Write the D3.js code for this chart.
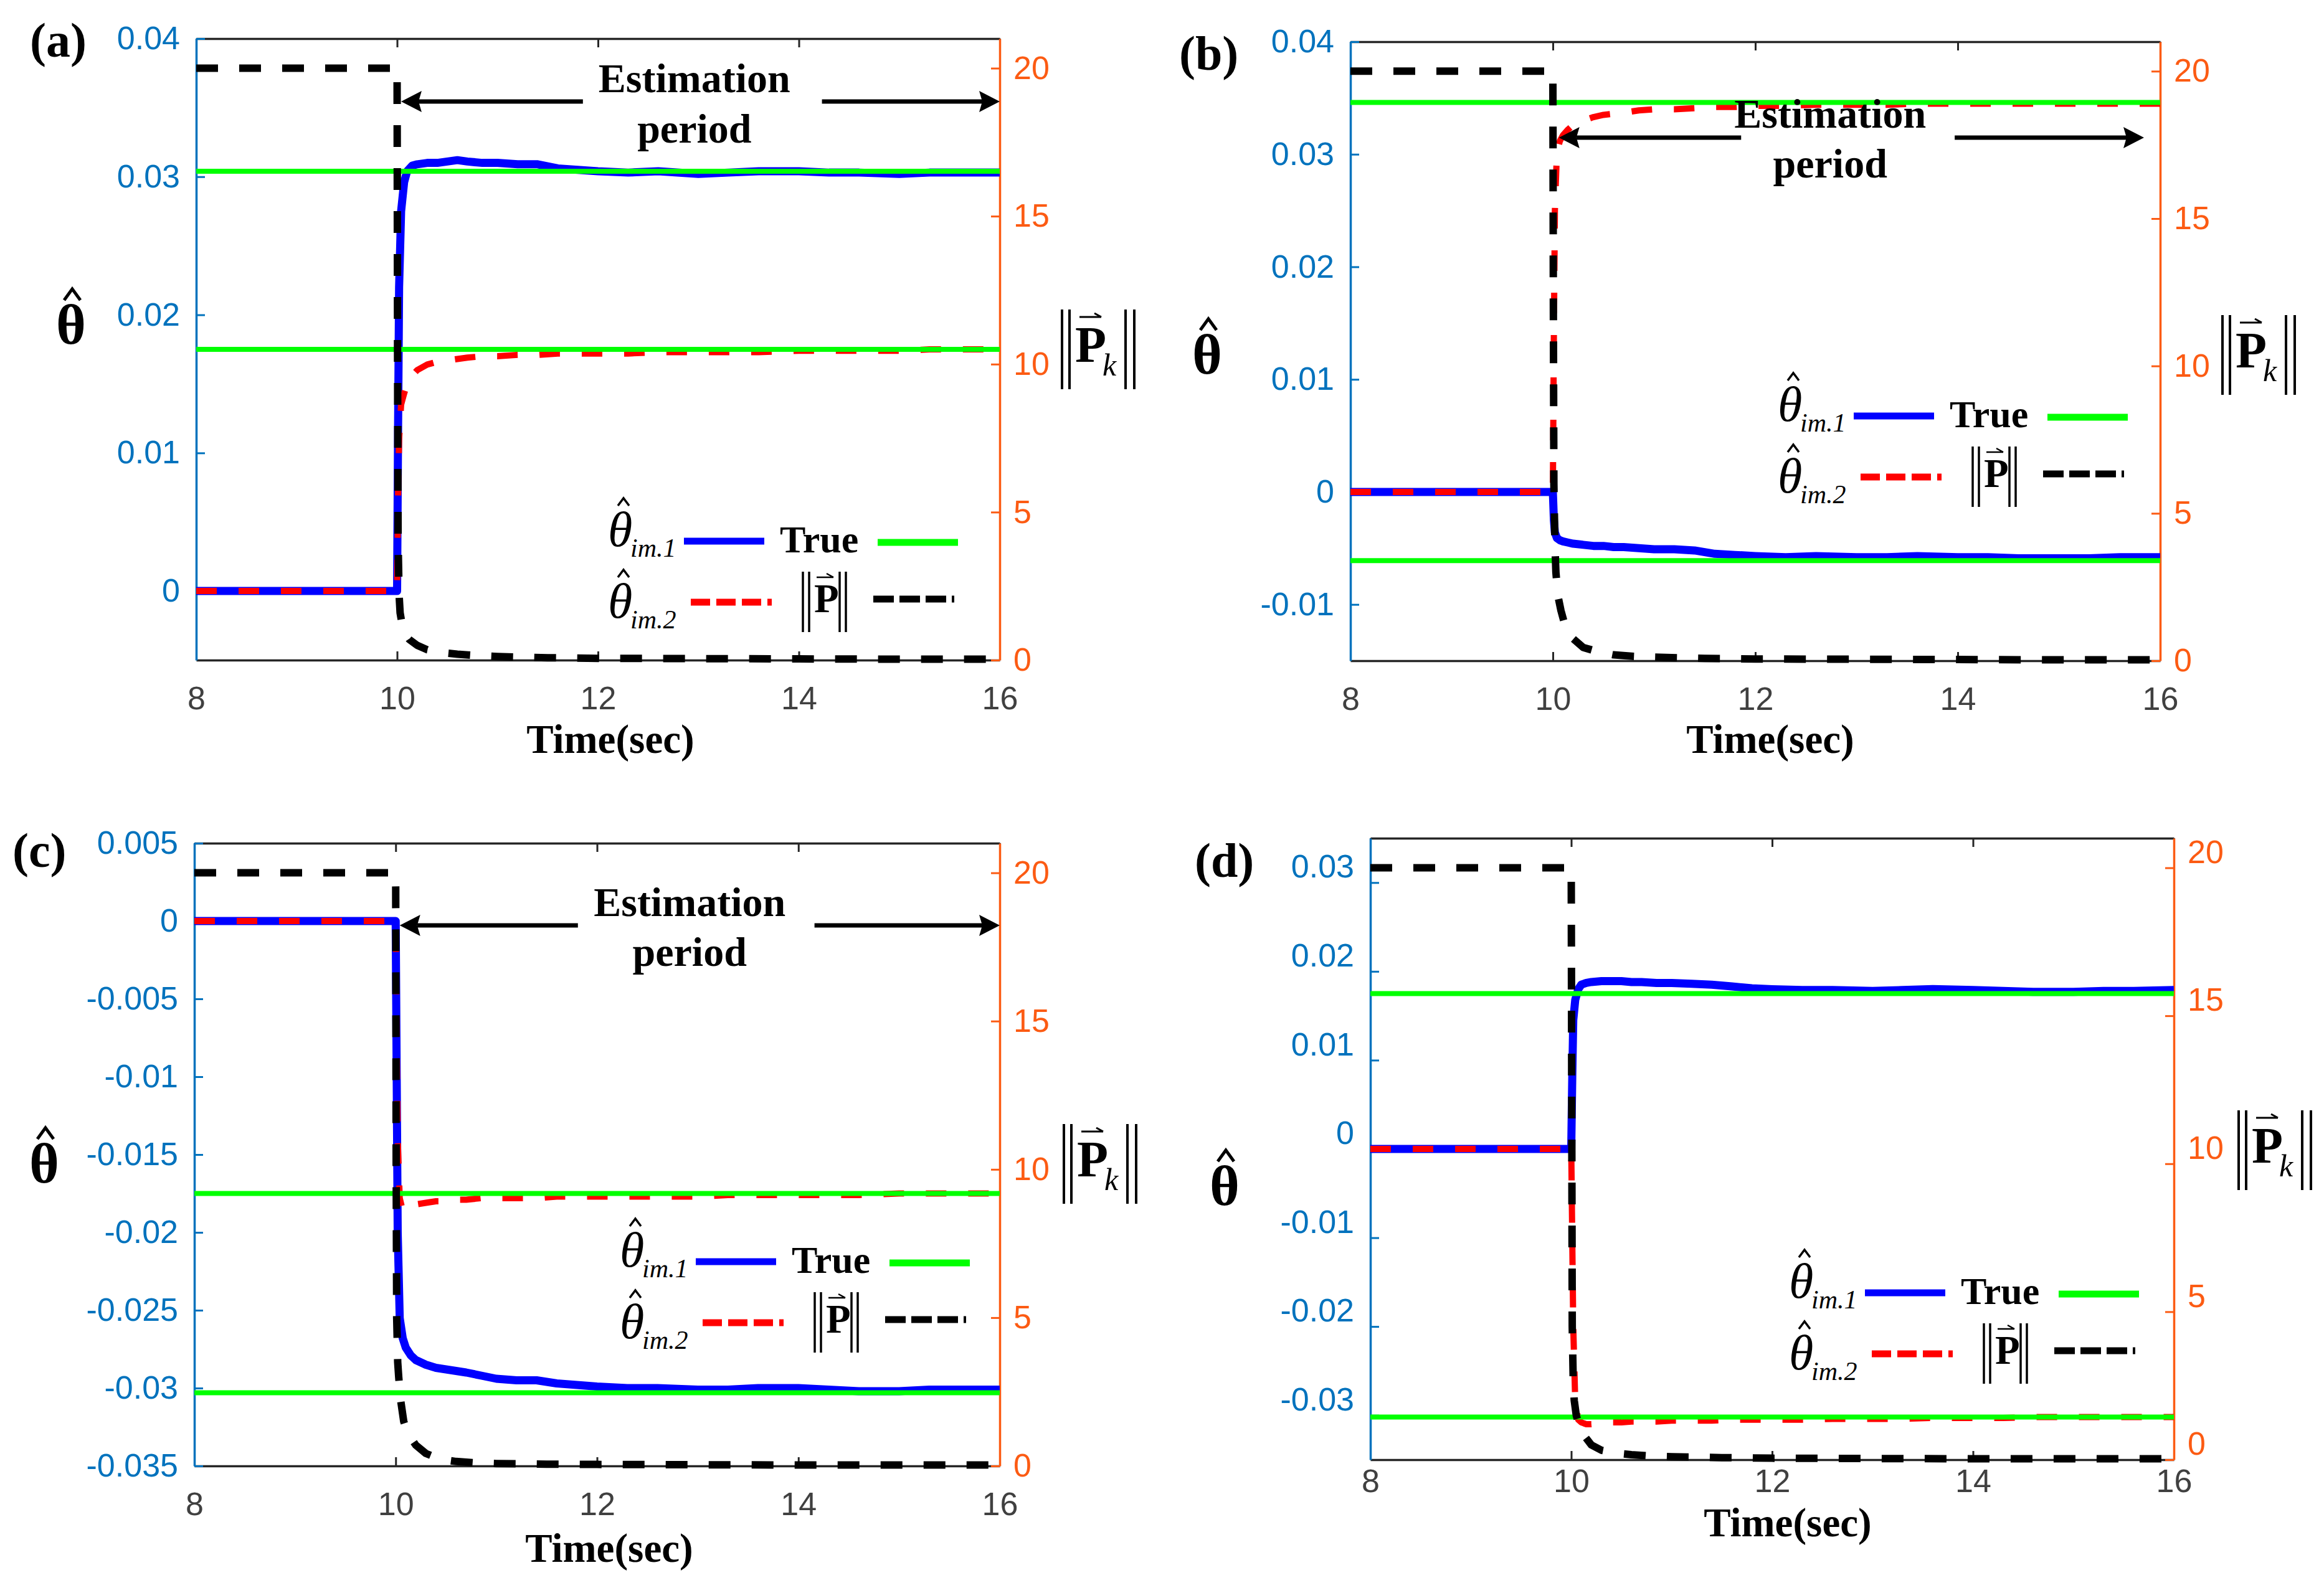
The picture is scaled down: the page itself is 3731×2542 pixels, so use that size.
<!DOCTYPE html>
<html>
<head>
<meta charset="utf-8">
<script src="https://cdn.jsdelivr.net/npm/d3@7"></script>
<style>
  html, body { margin: 0; padding: 0; background: #fff; }
  svg { display: block; }
</style>
</head>
<body>
<div id="chart"></div>
<script>
// ---- values ----
var timeEst = [8, 10, 10.01, 10.02, 10.04, 10.07, 10.1, 10.15, 10.2, 10.3, 10.4, 10.5, 10.6, 10.7, 10.85, 11,
  11.2, 11.4, 11.6, 11.8, 12, 12.3, 12.6, 13, 13.3, 13.6, 14, 14.3, 14.6, 15, 15.3, 15.6, 16];
var timeP = [8, 10, 10.005, 10.01, 10.02, 10.03, 10.05, 10.08, 10.12, 10.2, 10.3, 10.45, 10.6, 10.8, 11,
  11.5, 12, 13, 14, 15, 16];

var xTicks = [8, 10, 12, 14, 16];
var pTicks = [0, 5, 10, 15, 20];

// panel (a)
var thetaTicksA = [0, 0.01, 0.02, 0.03, 0.04];
var thetaLabelsA = ["0", "0.01", "0.02", "0.03", "0.04"];
var trueA = [0.0304, 0.0175];
var blueA = [0, 0, 0.012, 0.022, 0.0275, 0.0296, 0.0304, 0.0308, 0.0309, 0.031, 0.031, 0.0311, 0.0312, 0.0311,
  0.031, 0.031, 0.0309, 0.0309, 0.0306, 0.0305, 0.0304, 0.0303, 0.0304, 0.0302, 0.0303, 0.0304, 0.0304, 0.0303,
  0.0303, 0.0302, 0.0303, 0.0303, 0.0303];
var redA = [0, 0, 0.007, 0.011, 0.0135, 0.0143, 0.015, 0.0156, 0.016, 0.0164, 0.0166, 0.0167, 0.0168, 0.0169,
  0.017, 0.017, 0.0171, 0.0171, 0.0172, 0.0172, 0.0172, 0.0172, 0.0173, 0.0173, 0.0173, 0.0173, 0.0174, 0.0174,
  0.0174, 0.0174, 0.0175, 0.0175, 0.0175];
var normPA = [20, 20, 10, 4, 2.2, 1.6, 1.2, 0.9, 0.7, 0.5, 0.35, 0.25, 0.2, 0.15, 0.12, 0.08, 0.06, 0.05, 0.04, 0.03, 0.03];

// panel (b)
var thetaTicksB = [-0.01, 0, 0.01, 0.02, 0.03, 0.04];
var thetaLabelsB = ["-0.01", "0", "0.01", "0.02", "0.03", "0.04"];
var trueB = [0.0346, -0.0061];
var blueB = [0, 0, -0.0025, -0.0036, -0.0041, -0.0043, -0.0044, -0.0045, -0.0046, -0.0047, -0.0048, -0.0048,
  -0.0049, -0.0049, -0.005, -0.0051, -0.0051, -0.0052, -0.0055, -0.0056, -0.0057, -0.0058, -0.0057, -0.0058,
  -0.0058, -0.0057, -0.0058, -0.0058, -0.0059, -0.0059, -0.0059, -0.0058, -0.0058];
var redB = [0, 0, 0.014, 0.025, 0.0302, 0.0312, 0.0317, 0.0322, 0.0326, 0.033, 0.0333, 0.0335, 0.0336, 0.0337,
  0.0339, 0.034, 0.034, 0.0341, 0.0342, 0.0342, 0.0343, 0.0343, 0.0344, 0.0344, 0.0344, 0.0345, 0.0345, 0.0345,
  0.0345, 0.0345, 0.0345, 0.0345, 0.0345];
var normPB = [20, 20, 12, 6, 4, 3, 2.2, 1.7, 1.2, 0.75, 0.45, 0.3, 0.2, 0.15, 0.12, 0.08, 0.06, 0.05, 0.04, 0.03, 0.03];

// panel (c)
var thetaTicksC = [-0.035, -0.03, -0.025, -0.02, -0.015, -0.01, -0.005, 0, 0.005];
var thetaLabelsC = ["-0.035", "-0.03", "-0.025", "-0.02", "-0.015", "-0.01", "-0.005", "0", "0.005"];
var trueC = [-0.0175, -0.0303];
var blueC = [0, 0, -0.01, -0.02, -0.0255, -0.0268, -0.0274, -0.0279, -0.0282, -0.0285, -0.0287, -0.0288,
  -0.0289, -0.029, -0.0292, -0.0294, -0.0295, -0.0295, -0.0297, -0.0298, -0.0299, -0.03, -0.03, -0.0301,
  -0.0301, -0.03, -0.03, -0.0301, -0.0302, -0.0302, -0.0301, -0.0301, -0.0301];
var redC = [0, 0, -0.008, -0.014, -0.0178, -0.0186, -0.0185, -0.0183, -0.0182, -0.0181, -0.018, -0.018,
  -0.0179, -0.0179, -0.0178, -0.0178, -0.0178, -0.0178, -0.0177, -0.0177, -0.0177, -0.0177, -0.0177, -0.0177,
  -0.0176, -0.0176, -0.0176, -0.0176, -0.0176, -0.0175, -0.0175, -0.0175, -0.0175];
var normPC = [20, 20, 10, 5, 3.5, 3, 2.2, 1.5, 1.1, 0.7, 0.42, 0.22, 0.15, 0.1, 0.08, 0.06, 0.05, 0.04, 0.03, 0.03, 0.03];

// panel (d)
var thetaTicksD = [-0.03, -0.02, -0.01, 0, 0.01, 0.02, 0.03];
var thetaLabelsD = ["-0.03", "-0.02", "-0.01", "0", "0.01", "0.02", "0.03"];
var trueD = [0.0175, -0.0302];
var blueD = [0, 0, 0.008, 0.0145, 0.0168, 0.018, 0.0185, 0.0187, 0.0188, 0.0189, 0.0189, 0.0189, 0.0188,
  0.0188, 0.0187, 0.0187, 0.0186, 0.0185, 0.0183, 0.0181, 0.018, 0.0179, 0.0179, 0.0178, 0.0179, 0.018,
  0.0179, 0.0178, 0.0177, 0.0177, 0.0178, 0.0178, 0.0179];
var redD = [0, 0, -0.01, -0.02, -0.0285, -0.0305, -0.0308, -0.031, -0.031, -0.0309, -0.0308, -0.0308,
  -0.0307, -0.0307, -0.0307, -0.0306, -0.0306, -0.0306, -0.0305, -0.0305, -0.0305, -0.0305, -0.0304, -0.0304,
  -0.0304, -0.0303, -0.0303, -0.0303, -0.0302, -0.0302, -0.0302, -0.0302, -0.0302];
var normPD = [20, 20, 12, 4.5, 2.6, 2.0, 1.5, 1.15, 0.85, 0.5, 0.32, 0.22, 0.17, 0.12, 0.1, 0.07, 0.05, 0.04, 0.03, 0.03, 0.03];

// ---- layout / styles ----
var W = 3731, H = 2542;
var blueAxis = "#0072BD", orangeAxis = "#FC5B13", darkAxis = "#262626", xTickColor = "#404040";
var serif = "'Liberation Serif', 'Times New Roman', serif";
var sans = "'Liberation Sans', Arial, sans-serif";

var panels = [
  { id: "a", box: { l: 315, r: 1605, t: 62, b: 1060 }, thetaDomain: [-0.005, 0.04],
    thetaTicks: thetaTicksA, thetaLabels: thetaLabelsA, truth: trueA, blue: blueA, red: redA, normP: normPA,
    xPad: 42, labelShift: 0, tag: { x: 48, y: 91 }, thetaLab: { cx: 114, base: 552 },
    normLab: { x: 1705, y: 497 }, timeLab: { cx: 980, base: 1209 }, legend: { x: 976, y: 877 },
    note: { tipL: 10.04, tipR: 16, gapL: 11.85, gapR: 14.23, tc: 12.96, dyE: 86, dyA: 101, dyP: 167 } },
  { id: "b", box: { l: 2168, r: 3468, t: 67, b: 1061 }, thetaDomain: [-0.015, 0.04],
    thetaTicks: thetaTicksB, thetaLabels: thetaLabelsB, truth: trueB, blue: blueB, red: redB, normP: normPB,
    xPad: 42, labelShift: 0, tag: { x: 1893, y: 112 }, thetaLab: { cx: 1938, base: 600 },
    normLab: { x: 3568, y: 506 }, timeLab: { cx: 2842, base: 1209 }, legend: { x: 2854, y: 676 },
    note: { tipL: 10.06, tipR: 15.84, gapL: 11.86, gapR: 13.97, tc: 12.74, dyE: 138, dyA: 154, dyP: 218 } },
  { id: "c", box: { l: 312, r: 1605, t: 1354, b: 2354 }, thetaDomain: [-0.035, 0.005],
    thetaTicks: thetaTicksC, thetaLabels: thetaLabelsC, truth: trueC, blue: blueC, red: redC, normP: normPC,
    xPad: 42, labelShift: 0, tag: { x: 20, y: 1392 }, thetaLab: { cx: 71, base: 1899 },
    normLab: { x: 1708, y: 1805 }, timeLab: { cx: 978, base: 2508 }, legend: { x: 995, y: 2034 },
    note: { tipL: 10.04, tipR: 16, gapL: 11.81, gapR: 14.16, tc: 12.92, dyE: 117, dyA: 132, dyP: 197 } },
  { id: "d", box: { l: 2200, r: 3490, t: 1346, b: 2344 }, thetaDomain: [-0.035, 0.035],
    thetaTicks: thetaTicksD, thetaLabels: thetaLabelsD, truth: trueD, blue: blueD, red: redD, normP: normPD,
    xPad: 15, labelShift: -25, tag: { x: 1918, y: 1408 }, thetaLab: { cx: 1966, base: 1935 },
    normLab: { x: 3594, y: 1783 }, timeLab: { cx: 2870, base: 2467 }, legend: { x: 2872, y: 2084 },
    note: null }
];

var svg = d3.select("#chart").append("svg")
  .attr("width", W)
  .attr("height", H);
svg.append("rect").attr("width", W).attr("height", H).attr("fill", "#fff");
var defs = svg.append("defs");

panels.forEach(drawPanel);

function styleAxis(sel, lineColor, textColor, shift) {
  sel.attr("font-size", null).attr("font-family", null);
  sel.select(".domain").attr("stroke", lineColor).attr("stroke-width", 3.5);
  sel.selectAll(".tick line").attr("stroke", lineColor).attr("stroke-width", 3);
  var txt = sel.selectAll(".tick text")
    .attr("fill", textColor)
    .style("font-family", sans)
    .style("font-size", "52px");
  // only the y axes get nudged (panel d has its labels sitting above the ticks)
  if (shift) txt.attr("y", shift);
}

function drawPanel(p) {
  var box = p.box;
  var g = svg.append("g").attr("class", "panel-" + p.id);

  var x = d3.scaleLinear().domain([8, 16]).range([box.l, box.r]);
  var y = d3.scaleLinear().domain(p.thetaDomain).range([box.b, box.t]);
  var y2 = d3.scaleLinear().domain([0, 21]).range([box.b, box.t]);

  // axes (data is drawn over them)
  var bottomAxis = g.append("g")
    .attr("transform", `translate(0,${box.b})`)
    .call(d3.axisBottom(x).tickValues(xTicks).tickSize(-14).tickSizeOuter(0).tickPadding(p.xPad));
  styleAxis(bottomAxis, darkAxis, xTickColor);

  var topAxis = g.append("g")
    .attr("transform", `translate(0,${box.t})`)
    .call(d3.axisTop(x).tickValues(xTicks).tickSize(-14).tickSizeOuter(0).tickFormat(""));
  styleAxis(topAxis, darkAxis, xTickColor);

  var leftAxis = g.append("g")
    .attr("transform", `translate(${box.l},0)`)
    .call(d3.axisLeft(y).tickValues(p.thetaTicks)
      .tickFormat(d => p.thetaLabels[p.thetaTicks.indexOf(d)])
      .tickSize(-14).tickSizeOuter(0).tickPadding(26));
  styleAxis(leftAxis, blueAxis, blueAxis, p.labelShift);

  var rightAxis = g.append("g")
    .attr("transform", `translate(${box.r},0)`)
    .call(d3.axisRight(y2).tickValues(pTicks).tickSize(-14).tickSizeOuter(0).tickPadding(22));
  styleAxis(rightAxis, orangeAxis, orangeAxis, p.labelShift);

  // clip to the plot width, a little slack vertically
  var clipId = "clip-" + p.id;
  defs.append("clipPath").attr("id", clipId)
    .append("rect")
    .attr("x", box.l).attr("y", box.t - 12)
    .attr("width", box.r - box.l).attr("height", box.b - box.t + 24);
  var plot = g.append("g").attr("clip-path", `url(#${clipId})`);

  var thetaLine = d3.line().x(d => x(d.t)).y(d => y(d.v));
  var normLine = d3.line().x(d => x(d.t)).y(d => y2(d.v));

  var blueData = timeEst.map((t, i) => ({ t: t, v: p.blue[i] }));
  var redData = timeEst.map((t, i) => ({ t: t, v: p.red[i] }));
  var normData = timeP.map((t, i) => ({ t: t, v: p.normP[i] }));

  plot.append("path").datum(blueData)
    .attr("d", thetaLine)
    .attr("fill", "none")
    .attr("stroke", "#0000FF")
    .attr("stroke-width", 13)
    .attr("stroke-linejoin", "round");

  plot.append("path").datum(redData)
    .attr("d", thetaLine)
    .attr("fill", "none")
    .attr("stroke", "#FF0000")
    .attr("stroke-width", 10)
    .attr("stroke-dasharray", "33,35")
    .attr("stroke-linejoin", "round");

  p.truth.forEach(function(v) {
    plot.append("path").datum([{ t: 8, v: v }, { t: 16, v: v }])
      .attr("d", thetaLine)
      .attr("fill", "none")
      .attr("stroke", "#00FF00")
      .attr("stroke-width", 8);
  });

  plot.append("path").datum(normData)
    .attr("d", normLine)
    .attr("fill", "none")
    .attr("stroke", "#000")
    .attr("stroke-width", 12)
    .attr("stroke-dasharray", "35,34")
    .attr("stroke-linejoin", "round");

  // estimation period note
  if (p.note) {
    var n = p.note;
    g.append("text")
      .attr("x", x(n.tc)).attr("y", box.t + n.dyE)
      .attr("text-anchor", "middle")
      .style("font-family", serif).style("font-weight", "bold").style("font-size", "66px")
      .text("Estimation");
    g.append("text")
      .attr("x", x(n.tc)).attr("y", box.t + n.dyP)
      .attr("text-anchor", "middle")
      .style("font-family", serif).style("font-weight", "bold").style("font-size", "66px")
      .text("period");
    drawArrow(g, x(n.tipL), x(n.tipR), box.t + n.dyA, x(n.gapL), x(n.gapR));
  }

  // labels
  g.append("text")
    .attr("x", p.tag.x).attr("y", p.tag.y)
    .style("font-family", serif).style("font-weight", "bold").style("font-size", "78px")
    .text("(" + p.id + ")");

  g.append("text")
    .attr("x", p.timeLab.cx).attr("y", p.timeLab.base)
    .attr("text-anchor", "middle")
    .style("font-family", serif).style("font-weight", "bold").style("font-size", "65px")
    .text("Time(sec)");

  drawThetaLabel(g, p.thetaLab.cx, p.thetaLab.base);
  drawNormLabel(g, p.normLab.x, p.normLab.y);
  drawLegend(g, p.legend.x, p.legend.y);
}

function drawArrow(g, x1, x2, yA, gapL, gapR) {
  var len = 33, half = 17, notch = 28;
  g.append("line").attr("x1", x1 + notch).attr("x2", gapL).attr("y1", yA).attr("y2", yA)
    .attr("stroke", "#000").attr("stroke-width", 7);
  g.append("line").attr("x1", gapR).attr("x2", x2 - notch).attr("y1", yA).attr("y2", yA)
    .attr("stroke", "#000").attr("stroke-width", 7);
  g.append("path")
    .attr("d", `M${x1},${yA} L${x1 + len},${yA - half} L${x1 + notch},${yA} L${x1 + len},${yA + half} Z`)
    .attr("fill", "#000");
  g.append("path")
    .attr("d", `M${x2},${yA} L${x2 - len},${yA - half} L${x2 - notch},${yA} L${x2 - len},${yA + half} Z`)
    .attr("fill", "#000");
}

function hat(g, cx, yTop, halfW, h, sw) {
  g.append("path")
    .attr("d", `M${cx - halfW},${yTop + h} L${cx},${yTop} L${cx + halfW},${yTop + h}`)
    .attr("fill", "none").attr("stroke", "#000").attr("stroke-width", sw)
    .attr("stroke-linejoin", "miter");
}

function drawThetaLabel(g, cx, base) {
  g.append("text")
    .attr("x", cx).attr("y", base)
    .attr("text-anchor", "middle")
    .style("font-family", serif).style("font-weight", "bold").style("font-size", "92px")
    .text("θ");
  hat(g, cx + 2, base - 88, 13, 18, 5);
}

function bars(g, xs, y1, y2, sw) {
  xs.forEach(function(xv) {
    g.append("line").attr("x1", xv).attr("x2", xv).attr("y1", y1).attr("y2", y2)
      .attr("stroke", "#000").attr("stroke-width", sw);
  });
}

function vecArrow(g, xs, xe, yv, sw) {
  g.append("path")
    .attr("d", `M${xs},${yv} L${xe},${yv} M${xe},${yv} L${xe - 11},${yv - 6}`)
    .attr("fill", "none").attr("stroke", "#000").attr("stroke-width", sw);
}

function drawNormLabel(g, xb, yt) {
  bars(g, [xb, xb + 12, xb + 102, xb + 116], yt, yt + 128, 4);
  g.append("text")
    .attr("x", xb + 21).attr("y", yt + 84)
    .style("font-family", serif).style("font-weight", "bold").style("font-size", "82px")
    .text("P");
  vecArrow(g, xb + 28, xb + 63, yt + 12, 3);
  g.append("text")
    .attr("x", xb + 65).attr("y", yt + 106)
    .style("font-family", serif).style("font-style", "italic").style("font-size", "50px")
    .text("k");
}

function legendTheta(g, x0, yb, sub) {
  g.append("text")
    .attr("x", x0).attr("y", yb)
    .style("font-family", serif).style("font-style", "italic").style("font-size", "80px")
    .text("θ");
  hat(g, x0 + 25, yb - 77, 9, 12, 3.5);
  g.append("text")
    .attr("x", x0 + 36).attr("y", yb + 17)
    .style("font-family", serif).style("font-style", "italic").style("font-size", "42px")
    .text(sub);
}

function legendSeg(g, xa, xb, yv, color, dash) {
  g.append("line")
    .attr("x1", xa).attr("x2", xb).attr("y1", yv).attr("y2", yv)
    .attr("stroke", color).attr("stroke-width", 11)
    .attr("stroke-dasharray", dash || null);
}

function drawLegend(g, x0, y0) {
  // row 1
  legendTheta(g, x0, y0, "im.1");
  legendSeg(g, x0 + 122, x0 + 251, y0 - 8, "#0000FF");
  g.append("text")
    .attr("x", x0 + 276).attr("y", y0 + 10)
    .style("font-family", serif).style("font-weight", "bold").style("font-size", "62px")
    .text("True");
  legendSeg(g, x0 + 433, x0 + 562, y0 - 6, "#00FF00");

  // row 2
  legendTheta(g, x0, y0 + 115, "im.2");
  legendSeg(g, x0 + 133, x0 + 263, y0 + 90, "#FF0000", "31,10");
  bars(g, [x0 + 313, x0 + 323, x0 + 372, x0 + 382], y0 + 41, y0 + 138, 3.5);
  g.append("text")
    .attr("x", x0 + 331).attr("y", y0 + 106)
    .style("font-family", serif).style("font-weight", "bold").style("font-size", "65px")
    .text("P");
  vecArrow(g, x0 + 335, x0 + 362, y0 + 50, 2.5);
  legendSeg(g, x0 + 426, x0 + 556, y0 + 85, "#000", "33,9");
}
</script>
</body>
</html>
